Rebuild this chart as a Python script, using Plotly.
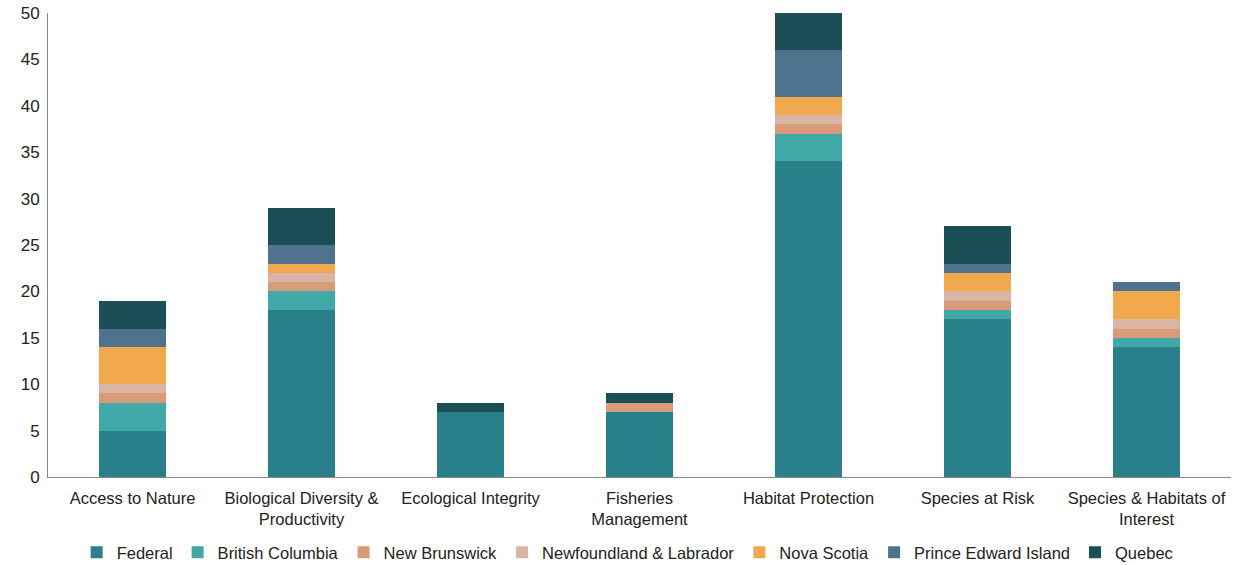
import plotly.graph_objects as go

categories = ["Access to Nature", "Biological Diversity &<br>Productivity", "Ecological Integrity",
              "Fisheries<br>Management", "Habitat Protection", "Species at Risk",
              "Species & Habitats of<br>Interest"]
federal = [5, 18, 7, 7, 34, 17, 14]
british_columbia = [3, 2, 0, 0, 3, 1, 1]
new_brunswick = [1, 1, 0, 1, 1, 1, 1]
newfoundland = [1, 1, 0, 0, 1, 1, 1]
nova_scotia = [4, 1, 0, 0, 2, 2, 3]
pei = [2, 2, 0, 0, 5, 1, 1]
quebec = [3, 4, 1, 1, 4, 4, 0]

series = [
    ("Federal", federal, "#2A808A"),
    ("British Columbia", british_columbia, "#40A8A6"),
    ("New Brunswick", new_brunswick, "#D89A78"),
    ("Newfoundland & Labrador", newfoundland, "#D9B5A5"),
    ("Nova Scotia", nova_scotia, "#F2A84C"),
    ("Prince Edward Island", pei, "#4F738E"),
    ("Quebec", quebec, "#1B4F56"),
]

fig = go.Figure()
for name, vals, color in series:
    fig.add_trace(go.Bar(x=categories, y=vals, name=name, marker_color=color,
                         marker_line_width=0))

font = "Liberation Sans, Arial, sans-serif"
fig.update_layout(
    barmode="stack",
    bargap=0.6,
    width=1241, height=565,
    margin=dict(l=48, r=10, t=13, b=88, autoexpand=False),
    plot_bgcolor="white", paper_bgcolor="white",
    font=dict(family=font, size=17, color="#222222"),
    legend=dict(orientation="h", x=0.49, xanchor="center", y=-0.125, yanchor="top",
                font=dict(size=16.5), traceorder="normal", itemwidth=30,
                tracegroupgap=0),
    xaxis=dict(showline=True, linecolor="#888888", linewidth=1, ticks="",
               tickfont=dict(size=16.5), automargin=False, ticklabelstandoff=6),
    yaxis=dict(range=[0, 50], dtick=5, showgrid=False, showline=True,
               linecolor="#888888", linewidth=1, ticks="", zeroline=False,
               tickfont=dict(size=17), automargin=False, ticklabelstandoff=4),
)
fig.write_html("out.html")
